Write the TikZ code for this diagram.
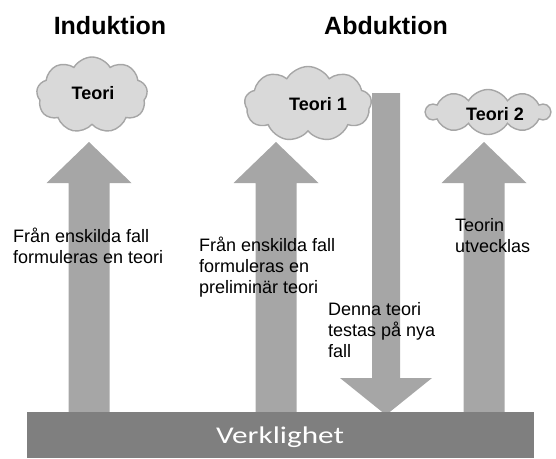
\documentclass[tikz,border=0pt]{standalone}
\usepackage{fontspec}
\setmainfont{Liberation Sans}
\newfontfamily\calibri{Carlito}
\usetikzlibrary{shapes.symbols}
\definecolor{molngra}{HTML}{D9D9D9}
\definecolor{kantgra}{HTML}{A6A6A6}
\definecolor{pilgra}{HTML}{A6A6A6}
\definecolor{markgra}{HTML}{7F7F7F}
% uppåtpil: mitt x, spets vid y=142, skaft ned till marken
\newcommand\uppil[1]{%
  \fill[pilgra] ({#1-20.5},412) -- ({#1-20.5},183) -- ({#1-42.5},183) -- (#1,142)
    -- ({#1+42.5},183) -- ({#1+20.5},183) -- ({#1+20.5},412) -- cycle;}
\begin{document}
\begin{tikzpicture}[x=1pt, y=-1pt,
    moln/.style={cloud, cloud puffs=9, cloud puff arc=120, draw=kantgra,
      line width=1.4pt, fill=molngra, inner sep=0pt},
    rubrik/.style={font=\bfseries\fontsize{25}{27}\selectfont, anchor=base, inner sep=0pt},
    molntext/.style={font=\bfseries\fontsize{18}{20}\selectfont, inner sep=0pt},
    pilText/.style={font=\fontsize{18}{21}\selectfont, align=left, anchor=north west, inner sep=0pt}]
    \useasboundingbox (0,0) rectangle (556,458);

    % 1. Rubriker
    \node[rubrik] (induktion) at (110,34) {Induktion};
    \node[rubrik] (abduktion) at (386,34) {Abduktion};

    % 2. Moln med teorier
    \node[moln, minimum width=111pt, minimum height=76pt] (molnA) at (92,95) {};
    \node[moln, minimum width=127pt, minimum height=75pt] (molnB) at (308,104) {};
    \node[moln, cloud puffs=10, minimum width=124pt, minimum height=45pt, aspect=2.8] (molnC) at (488,112) {};
    \node[molntext] (teori) at (93,93) {Teori};
    \node[molntext] (teori1) at (318,104) {Teori 1};
    \node[molntext] (teori2) at (495,114) {Teori 2};

    % 3. Pilar
    \uppil{89}
    \uppil{276}
    \uppil{484}
    % nedåtpil från Teori 1
    \fill[pilgra] (372,93) -- (372,378) -- (340,378) -- (386,415) -- (432,378)
        -- (400,378) -- (400,93) -- cycle;

    % 4. Verkligheten
    \fill[markgra] (27,412) rectangle (534,458);
    \node[font=\calibri\fontsize{24}{26}\selectfont, text=white, xscale=1.3,
        transform shape, inner sep=0pt] (verklighet) at (280,437) {Verklighet};

    % 5. Texter vid pilarna
    \node[pilText] (text1) at (13,228) {Från enskilda fall\\formuleras en teori};
    \node[pilText] (text2) at (199,237) {Från enskilda fall\\formuleras en\\preliminär teori};
    \node[pilText] (text3) at (328,302) {Denna teori\\testas på nya\\fall};
    \node[pilText] (text4) at (455,218) {Teorin\\utvecklas};
\end{tikzpicture}
\end{document}
